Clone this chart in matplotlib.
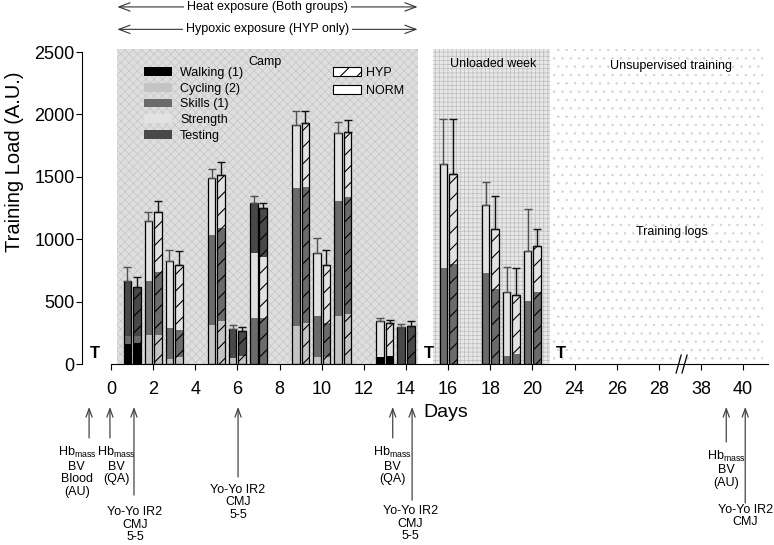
import numpy as np
import matplotlib
matplotlib.use("Agg")
import matplotlib.pyplot as plt
from matplotlib.patches import Patch, Rectangle

plt.rcParams['font.family'] = ['Liberation Sans', 'DejaVu Sans']
plt.rcParams['mathtext.fontset'] = 'custom'
plt.rcParams['mathtext.rm'] = 'Liberation Sans'
plt.rcParams['mathtext.it'] = 'Liberation Sans'

# training days with bars (days <= 20, plotted at their own position)
days = [1, 2, 3, 5, 6, 7, 9, 10, 11, 13, 14, 16, 18, 19, 20]

components = ['Walking (1)', 'Cycling (2)', 'Skills (1)', 'Strength', 'Testing']
comp_colors = ['#000000', '#c4c4c4', '#6b6b6b', '#e2e2e2', '#484848']

norm_walking = [160, 0, 0, 0, 0, 0, 0, 0, 0, 59, 0, 0, 0, 0, 0]
norm_cycling = [0, 232, 40, 312, 48, 0, 304, 59, 385, 0, 0, 0, 0, 0, 0]
norm_skills = [67, 436, 248, 724, 0, 368, 1103, 326, 924, 0, 0, 767, 732, 67, 505]
norm_strength = [0, 478, 535, 452, 0, 519, 508, 507, 539, 285, 0, 833, 542, 507, 398]
norm_testing = [441, 0, 0, 0, 235, 401, 0, 0, 0, 0, 299, 0, 0, 0, 0]
norm_sd = [112, 69, 93, 72, 29, 58, 110, 115, 94, 27, 18, 360, 181, 206, 337]

hyp_walking = [171, 0, 0, 0, 0, 0, 0, 0, 0, 67, 0, 0, 0, 0, 0]
hyp_cycling = [0, 230, 56, 344, 61, 0, 331, 59, 398, 0, 0, 0, 0, 0, 0]
hyp_skills = [50, 505, 216, 743, 0, 368, 1084, 267, 943, 0, 0, 799, 598, 80, 579]
hyp_strength = [0, 485, 524, 427, 0, 492, 513, 467, 521, 259, 0, 723, 484, 470, 369]
hyp_testing = [399, 0, 0, 0, 201, 390, 0, 0, 0, 0, 304, 0, 0, 0, 0]
hyp_sd = [80, 89, 112, 102, 34, 38, 97, 123, 93, 27, 43, 438, 267, 217, 134]

# broken day axis
tick_days = [0, 2, 4, 6, 8, 10, 12, 14, 16, 18, 20, 24, 26, 28, 38, 40]


def day_pos(d):
    if d <= 20:
        return d
    if d <= 30:
        return d - 2
    return d - 10


fig = plt.figure(figsize=(7.74, 5.45), dpi=100)
ax = fig.add_axes([0.1053, 0.3321, 0.8902, 0.5793])
ax.set_xlim(-1.4, 31.3)
ax.set_ylim(0, 2530)
trans = ax.get_xaxis_transform()

# background periods
plt.rcParams['hatch.linewidth'] = 0.5
ax.add_patch(Rectangle((0.3, 0), 14.25, 2525, facecolor='#dedede', edgecolor='#c6c6c6',
                       hatch='xxxx', linewidth=0, zorder=0))
ax.add_patch(Rectangle((15.28, 0), 5.56, 2525, facecolor='#e8e8e8', edgecolor='#bdbdbd',
                       hatch='++++', linewidth=0, zorder=0))
ax.add_patch(Rectangle((20.95, 0), 10.0, 2525, facecolor='white', edgecolor='#d2d2d2',
                       hatch='..', linewidth=0, zorder=0))

ax.text(7.3, 2420, 'Camp', ha='center', va='center', fontsize=9)
ax.text(18.13, 2404, 'Unloaded week', ha='center', va='center', fontsize=9)
ax.text(26.6, 2388, 'Unsupervised training', ha='center', va='center', fontsize=9)
ax.text(26.6, 1058, 'Training logs', ha='center', va='center', fontsize=9)

# stacked bars
plt.rcParams['hatch.linewidth'] = 0.8
x = np.array(days, dtype=float)
width = 0.36
groups = [
    ([norm_walking, norm_cycling, norm_skills, norm_strength, norm_testing], norm_sd, -0.225, '', '#505050'),
    ([hyp_walking, hyp_cycling, hyp_skills, hyp_strength, hyp_testing], hyp_sd, 0.225, '//', '#111111'),
]
for parts, sd, off, hatch, ecol in groups:
    bottom = np.zeros(len(days))
    for vals, col in zip(parts, comp_colors):
        ax.bar(x + off, vals, width, bottom=bottom, color=col, edgecolor='black',
               linewidth=0, hatch=hatch, zorder=2)
        bottom += np.array(vals)
    ax.bar(x + off, bottom, width, fill=False, edgecolor='black', linewidth=0.9, zorder=3)
    ax.errorbar(x + off, bottom, yerr=[np.zeros(len(days)), sd], fmt='none', ecolor=ecol,
                elinewidth=1.0, capsize=3, capthick=1.0, zorder=3)

# T markers (testing days without bars)
for d in [-0.76, 15.09, 21.34]:
    ax.text(d, 88, 'T', ha='center', va='center', fontsize=12, fontweight='bold')

# legends
leg1 = ax.legend([Patch(facecolor=c) for c in comp_colors], components, loc='upper left',
                 bbox_to_anchor=(0.0907, 0.941), frameon=False, fontsize=9, handlelength=2.24,
                 handletextpad=0.64, labelspacing=0.3, borderpad=0, borderaxespad=0)
ax.add_artist(leg1)
ax.legend([Patch(facecolor='white', edgecolor='black', hatch='//', linewidth=0.8),
           Patch(facecolor='white', edgecolor='black', linewidth=0.8)], ['HYP', 'NORM'],
          loc='upper left', bbox_to_anchor=(0.365, 0.94), frameon=False, fontsize=9,
          handlelength=2.24, handletextpad=0.4, labelspacing=0.46, borderpad=0, borderaxespad=0)

# axes styling
for s in ['top', 'right']:
    ax.spines[s].set_visible(False)
ax.spines['left'].set_bounds(0, 2500)
ax.spines['bottom'].set_bounds(0, 31.2)
ax.set_yticks([0, 500, 1000, 1500, 2000, 2500])
ax.set_xticks([day_pos(d) for d in tick_days])
ax.set_xticklabels([str(d) for d in tick_days])
ax.tick_params(axis='y', direction='out', length=4, width=0.8, labelsize=13, pad=1)
ax.tick_params(axis='x', direction='out', length=4, width=0.8, labelsize=13, pad=8)
ax.set_ylabel('Training Load (A.U.)', fontsize=14.5)
ax.yaxis.set_label_coords(-0.083, 0.64)
ax.set_xlabel('Days', fontsize=14)
ax.xaxis.set_label_coords(0.528, -0.127)

# axis break
for x0 in [26.82, 27.1]:
    ax.plot([x0, x0 + 0.24], [-72, 72], color='black', lw=0.9, clip_on=False, zorder=5)

# exposure arrows above the plot
for yy, label in [(1.131, 'Heat exposure (Both groups)'), (1.060, 'Hypoxic exposure (HYP only)')]:
    ax.annotate('', xy=(0.3, yy), xytext=(14.55, yy), xycoords=trans, textcoords=trans,
                arrowprops=dict(arrowstyle='<->,head_length=0.8,head_width=0.3', lw=0.8,
                                color='#333333', shrinkA=0, shrinkB=0), annotation_clip=False)
    ax.text(7.42, yy, label, transform=trans, ha='center', va='center', fontsize=9, zorder=6,
            bbox=dict(facecolor='white', edgecolor='none', pad=2))

# measurement annotations below the axis
hb = r'Hb$_{\rm mass}$'
notes = [
    (-1.04, -0.234, -1.62, -0.257, hb + '\nBV\nBlood\n(AU)'),
    (-0.05, -0.234, 0.24, -0.257, hb + '\nBV\n(QA)'),
    (1.09, -0.415, 1.14, -0.450, 'Yo-Yo IR2\nCMJ\n5-5'),
    (6.03, -0.358, 6.03, -0.380, 'Yo-Yo IR2\nCMJ\n5-5'),
    (13.37, -0.234, 13.34, -0.257, hb + '\nBV\n(QA)'),
    (14.29, -0.431, 14.2, -0.447, 'Yo-Yo IR2\nCMJ\n5-5'),
    (day_pos(39.2), -0.247, day_pos(39.2), -0.268, hb + '\nBV\n(AU)'),
    (day_pos(40.1), -0.440, day_pos(40.1), -0.443, 'Yo-Yo IR2\nCMJ'),
]
for ax_x, tail, tx, ty, label in notes:
    ax.annotate('', xy=(ax_x, -0.136), xytext=(ax_x, tail), xycoords=trans, textcoords=trans,
                arrowprops=dict(arrowstyle='->,head_length=0.6,head_width=0.22', lw=0.9,
                                color='#444444', shrinkA=0, shrinkB=0), annotation_clip=False)
    ax.text(tx, ty, label, transform=trans, ha='center', va='top', fontsize=9,
            linespacing=1.05, multialignment='center')

fig.savefig('out.png', dpi=100)
